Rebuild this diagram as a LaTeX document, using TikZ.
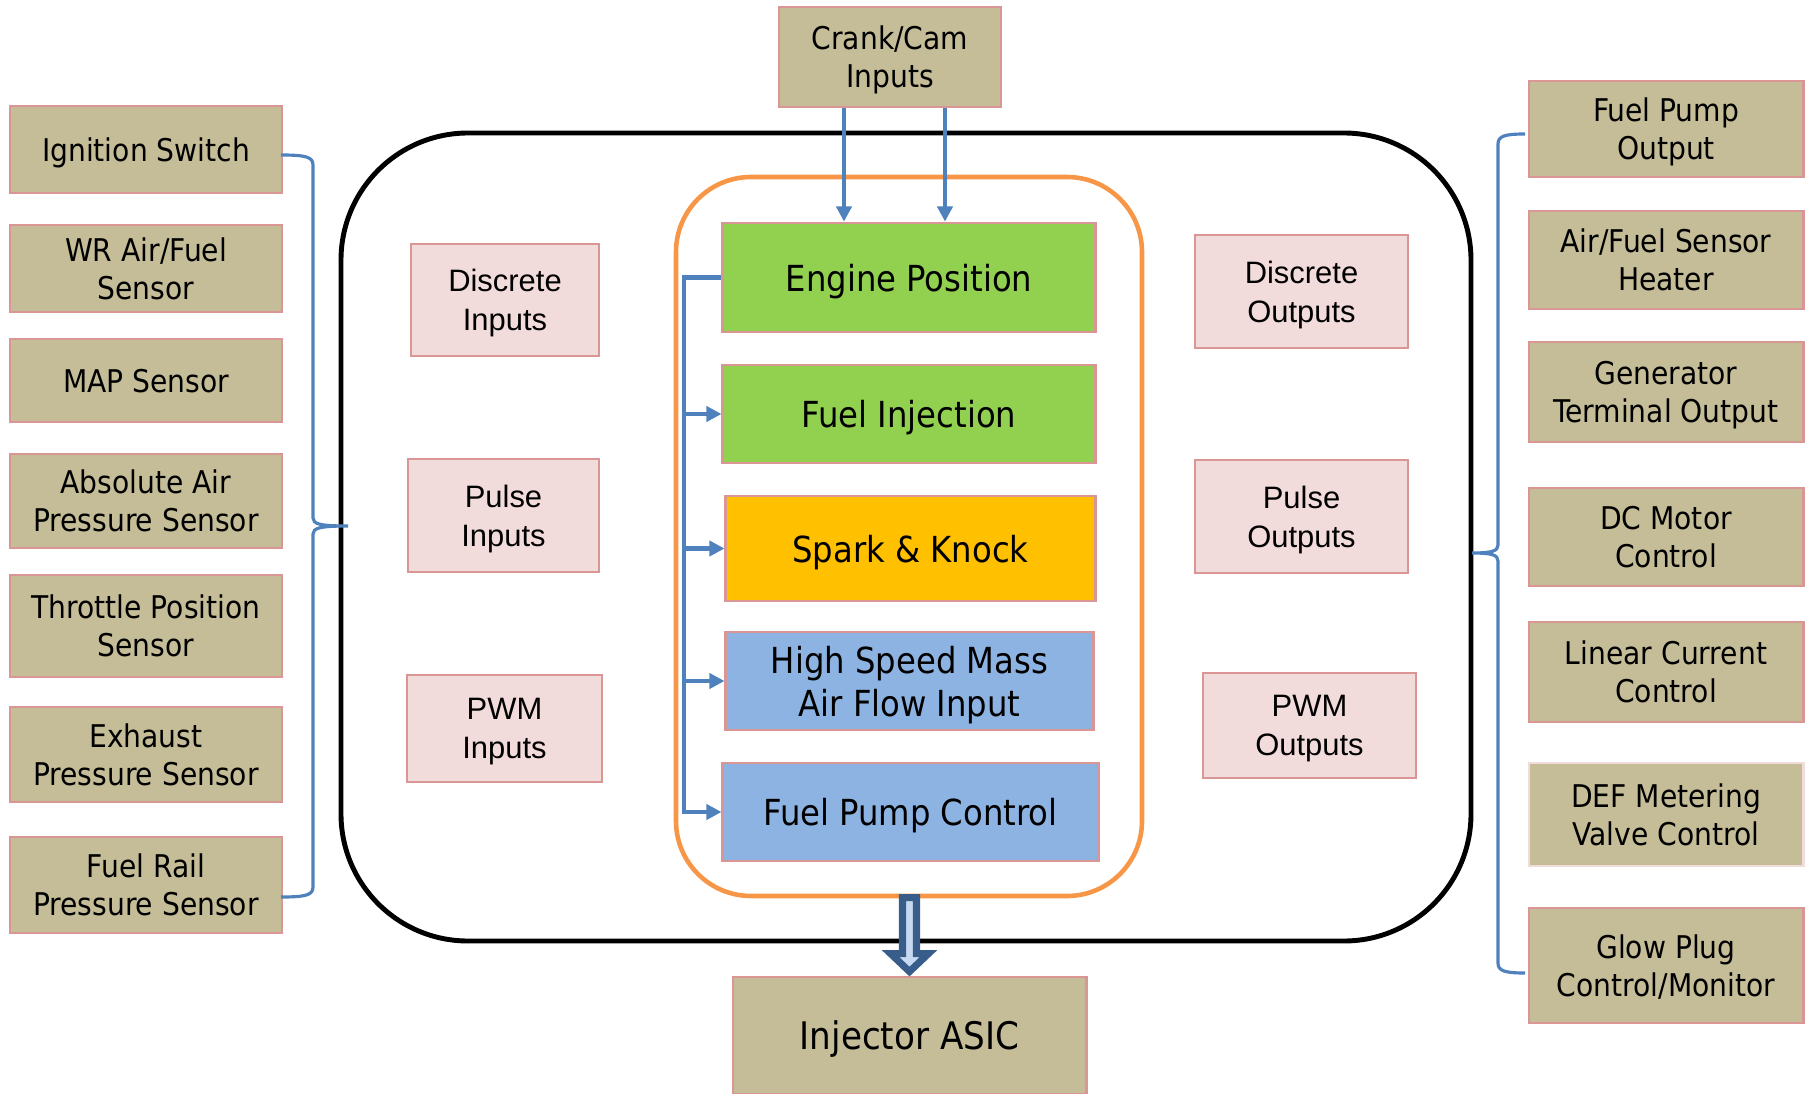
\documentclass[tikz,border=0pt]{standalone}
\usepackage{fontspec}
\setmainfont{DejaVu Sans Condensed}
\newfontfamily\arialfont{Liberation Sans}
\usetikzlibrary{positioning, arrows.meta}

\definecolor{tan}{HTML}{C4BD97}
\definecolor{rosebd}{HTML}{D99694}
\definecolor{rosefill}{HTML}{F2DCDB}
\definecolor{leaf}{HTML}{92D050}
\definecolor{gold}{HTML}{FFC000}
\definecolor{sky}{HTML}{8DB3E2}
\definecolor{wire}{HTML}{4F81BD}
\definecolor{rim}{HTML}{F79646}
\definecolor{navy}{HTML}{385D8A}
\definecolor{pale}{HTML}{C6D9F1}

\begin{document}
\begin{tikzpicture}[x=0.01cm, y=-0.01cm, font=\fontsize{8.9}{10.8}\selectfont,
  sensor/.style={draw=rosebd, fill=tan, line width=0.8pt, align=center, inner sep=0pt, text depth=0pt},
  block/.style={draw=rosebd, line width=0.8pt, align=center, inner sep=0pt, text depth=0pt, font=\fontsize{10.2}{12.2}\selectfont},
  port/.style={draw=rosebd, fill=rosefill, line width=0.8pt, align=center, inner sep=0pt, text depth=0pt, font=\arialfont\fontsize{8.8}{11}\selectfont},
  feed/.style={wire, line width=1.3pt, -{Triangle[length=4.3pt, width=4.3pt]}},
  clamp/.style={wire, line width=0.9pt}]
  \useasboundingbox (0,0) rectangle (1812,1094);
  % contorno centralina e modulo temporizzazione
  \draw[line width=1.4pt, rounded corners=1.27cm] (341,133) rectangle (1471,941);
  \draw[rim, line width=1.3pt, rounded corners=0.75cm] (676,177) rectangle (1142,896);
  % sensori a sinistra
  \foreach \n/\y/\h/\lab in {ign/149.5/0.87cm/Ignition Switch, wr/268.5/0.87cm/{WR Air/Fuel\\Sensor},
      map/380.5/0.83cm/MAP Sensor, abs/501/0.94cm/{Absolute Air\\Pressure Sensor},
      thr/626/1.02cm/{Throttle Position\\Sensor}, exh/754.5/0.95cm/{Exhaust\\Pressure Sensor},
      rail/885/0.96cm/{Fuel Rail\\Pressure Sensor}}
    \node[sensor, minimum width=2.72cm, minimum height=\h] (\n) at (146,\y) {\lab};
  % uscite a destra
  \foreach \n/\y/\h/\lab in {fpo/129/0.96cm/{Fuel Pump\\Output}, afh/260/0.98cm/{Air/Fuel Sensor\\Heater},
      gen/392/1.00cm/{Generator\\Terminal Output}, dcm/537/0.98cm/{DC Motor\\Control},
      lin/672/1.00cm/{Linear Current\\Control}, glow/965.5/1.15cm/{Glow Plug\\Control/Monitor}}
    \node[sensor, minimum width=2.74cm, minimum height=\h] (\n) at (1666,\y) {\lab};
  \node[sensor, draw=rosefill, minimum width=2.74cm, minimum height=1.03cm] (def) at (1666,814.5) {DEF Metering\\Valve Control};
  \node[sensor, minimum width=2.22cm, minimum height=1.00cm] (crank) at (890,57) {Crank/Cam\\Inputs};
  \node[sensor, minimum width=3.53cm, minimum height=1.17cm, font=\fontsize{10.8}{12.8}\selectfont] (asic) at (909.5,1035.5) {Injector ASIC};
  % blocchi funzionali
  \node[block, fill=leaf, minimum width=3.72cm, minimum height=1.09cm] (eng) at (909,277.5) {Engine Position};
  \node[block, fill=leaf, minimum width=3.72cm, minimum height=0.98cm] (inj) at (909,414) {Fuel Injection};
  \node[block, fill=gold, minimum width=3.69cm, minimum height=1.05cm] (spk) at (910.5,548.5) {Spark \& Knock};
  \node[block, fill=sky, minimum width=3.67cm, minimum height=0.98cm] (maf) at (909.5,681) {High Speed Mass\\Air Flow Input};
  \node[block, fill=sky, minimum width=3.75cm, minimum height=0.98cm] (fpc) at (910.5,812) {Fuel Pump Control};
  % porte di ingresso/uscita
  \node[port, minimum width=1.88cm, minimum height=1.12cm] (din) at (505,300) {Discrete\\Inputs};
  \node[port, minimum width=1.91cm, minimum height=1.13cm] (pin) at (503.5,515.5) {Pulse\\Inputs};
  \node[port, minimum width=1.95cm, minimum height=1.07cm] (pwin) at (504.5,728.5) {PWM\\Inputs};
  \node[port, minimum width=2.13cm, minimum height=1.13cm] (dout) at (1301.5,291.5) {Discrete\\Outputs};
  \node[port, minimum width=2.13cm, minimum height=1.13cm] (pout) at (1301.5,516.5) {Pulse\\Outputs};
  \node[port, minimum width=2.13cm, minimum height=1.05cm] (pwout) at (1309.5,725.5) {PWM\\Outputs};
  % segnali albero motore / camme
  \coordinate (camA) at (844,0); \coordinate (camB) at (945,0); \coordinate (trunk) at (684,0);
  \draw[feed] (crank.south -| camA) -- (eng.north -| camA);
  \draw[feed] (crank.south -| camB) -- (eng.north -| camB);
  \draw[feed] (eng.west) -- (eng.west -| trunk) |- (fpc.west);
  \foreach \b in {inj, spk, maf} \draw[feed] (\b.west -| trunk) -- (\b.west);
  % parentesi di raggruppamento
  \draw[clamp] (281,155) .. controls (306,155) and (313,157) .. (313,165) -- (313,518)
    .. controls (313,524) and (320,526) .. (348,526)
    .. controls (320,526) and (313,528) .. (313,534) -- (313,887)
    .. controls (313,895) and (306,897) .. (281,897);
  \draw[clamp] (1525,134) .. controls (1505,134) and (1498,136) .. (1498,144) -- (1498,545)
    .. controls (1498,551) and (1492,553) .. (1472,553)
    .. controls (1492,553) and (1498,555) .. (1498,561) -- (1498,963)
    .. controls (1498,971) and (1505,973) .. (1525,973);
  % freccia verso l'ASIC
  \draw[navy, fill=pale, line width=2pt, miter limit=4] ([shift={(-7,-78)}]asic.north) -- ([shift={(7,-78)}]asic.north)
    -- ([shift={(7,-22)}]asic.north) -- ([shift={(19,-22)}]asic.north) -- ([shift={(0,-4)}]asic.north)
    -- ([shift={(-19,-22)}]asic.north) -- ([shift={(-7,-22)}]asic.north) -- cycle;
\end{tikzpicture}
\end{document}
